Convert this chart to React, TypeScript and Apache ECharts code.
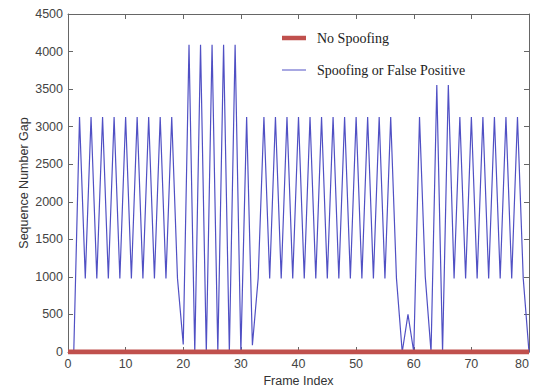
import React, { useEffect, useRef } from "react";
import * as echarts from "echarts";

const frameIndex: number[] = [
  0, 1, 2, 3, 4, 5, 6, 7, 8, 9, 10, 11, 12, 13, 14, 15, 16, 17, 18, 19, 20,
  21, 22, 23, 24, 25, 26, 27, 28, 29, 30, 31, 32, 33, 34, 35, 36, 37, 38, 39, 40,
  41, 42, 43, 44, 45, 46, 47, 48, 49, 50, 51, 52, 53, 54, 55, 56, 57, 58, 59, 60,
  61, 62, 63, 64, 65, 66, 67, 68, 69, 70, 71, 72, 73, 74, 75, 76, 77, 78, 79, 80,
];

const spoofingGap: number[] = [
  0, 0, 3130, 980, 3130, 980, 3130, 980, 3130, 980, 3130,
  980, 3130, 980, 3130, 980, 3130, 980, 3130, 980, 100,
  4090, 0, 4090, 0, 4090, 0, 4090, 0, 4090, 0,
  3130, 90, 980, 3130, 980, 3130, 980, 3130, 980, 3130,
  980, 3130, 980, 3130, 980, 3130, 980, 3130, 980, 3130,
  980, 3130, 980, 3130, 980, 3130, 980, 0, 500, 0,
  3130, 1000, 0, 3555, 0, 3555, 980, 3130, 980, 3130,
  980, 3130, 980, 3130, 980, 3130, 980, 3130, 980, 0,
];

const noSpoofingGap: number[] = [
  0, 0, 0, 0, 0, 0, 0, 0, 0, 0, 0,
  0, 0, 0, 0, 0, 0, 0, 0, 0, 0,
  0, 0, 0, 0, 0, 0, 0, 0, 0, 0,
  0, 0, 0, 0, 0, 0, 0, 0, 0, 0,
  0, 0, 0, 0, 0, 0, 0, 0, 0, 0,
  0, 0, 0, 0, 0, 0, 0, 0, 0, 0,
  0, 0, 0, 0, 0, 0, 0, 0, 0, 0,
  0, 0, 0, 0, 0, 0, 0, 0, 0, 0,
];

const seriesNames = ["No Spoofing", "Spoofing or False Positive"];

const RED = "#c0504d";
const BLUE = "#5050c4";

export default function App() {
  const ref = useRef<HTMLDivElement>(null);

  useEffect(() => {
    if (!ref.current) return;
    const chart = echarts.init(ref.current, null, { renderer: "svg" });
    const axisColor = "#666";
    const labelFont = "'Liberation Sans', Arial, sans-serif";
    const commonX = {
      type: "value" as const,
      min: 0,
      max: 80,
      interval: 10,
      splitLine: { show: false },
      axisLine: { show: true, onZero: false, lineStyle: { color: axisColor, width: 1 } },
      axisTick: { show: true, inside: true, length: 5, lineStyle: { color: axisColor } },
    };
    const commonY = {
      type: "value" as const,
      min: 0,
      max: 4500,
      interval: 500,
      splitLine: { show: false },
      axisLine: { show: true, onZero: false, lineStyle: { color: axisColor, width: 1 } },
      axisTick: { show: true, inside: true, length: 5, lineStyle: { color: axisColor } },
    };
    chart.setOption({
      animation: false,
      backgroundColor: "#ffffff",
      grid: {
        left: 68,
        right: 4,
        top: 14,
        bottom: 35,
        containLabel: false,
        outerBoundsMode: "none",
      },
      legend: {
        orient: "vertical",
        left: 282,
        top: 31,
        padding: 0,
        itemWidth: 24,
        itemHeight: 14,
        itemGap: 18,
        symbolKeepAspect: true,
        textStyle: {
          fontFamily: "'Liberation Serif', 'Times New Roman', serif",
          fontSize: 14,
          color: "#222",
          padding: [0, 0, 0, 6],
        },
        data: [
          { name: seriesNames[0], icon: "path://M0,0 H24 V4.5 H0 Z", itemStyle: { color: RED } },
          { name: seriesNames[1], icon: "path://M0,0 H24 V1 H0 Z", itemStyle: { color: BLUE } },
        ],
      },
      xAxis: [
        {
          ...commonX,
          position: "bottom",
          name: "Frame Index",
          nameLocation: "middle",
          nameGap: 21,
          nameTextStyle: { fontFamily: labelFont, fontSize: 12.5, color: "#333" },
          axisLabel: {
            margin: 5,
            fontFamily: labelFont,
            fontSize: 12.5,
            color: "#444",
            alignMaxLabel: "right",
          },
        },
        {
          ...commonX,
          position: "top",
          axisLabel: { show: false },
        },
      ],
      yAxis: [
        {
          ...commonY,
          position: "left",
          name: "Sequence Number Gap",
          nameLocation: "middle",
          nameGap: 38,
          nameMoveOverlap: false,
          nameTextStyle: { fontFamily: labelFont, fontSize: 12.5, color: "#333" },
          axisLabel: {
            margin: 5,
            fontFamily: labelFont,
            fontSize: 12.5,
            color: "#444",
            formatter: (v: number) => String(v),
          },
        },
        {
          ...commonY,
          position: "right",
          axisLabel: { show: false },
        },
      ],
      series: [
        {
          name: seriesNames[1],
          type: "line",
          xAxisIndex: 0,
          yAxisIndex: 0,
          symbol: "none",
          data: frameIndex.map((f, i) => [f, spoofingGap[i]]),
          lineStyle: { color: BLUE, width: 1.2 },
          itemStyle: { color: BLUE },
          z: 2,
        },
        {
          name: seriesNames[0],
          type: "line",
          xAxisIndex: 0,
          yAxisIndex: 0,
          symbol: "none",
          data: frameIndex.map((f, i) => [f, noSpoofingGap[i]]),
          lineStyle: { color: RED, width: 5 },
          itemStyle: { color: RED },
          z: 3,
        },
      ],
    });
    return () => chart.dispose();
  }, []);

  return (
    <div
      ref={ref}
      style={{ position: "fixed", left: 0, top: 0, width: 533, height: 387 }}
    />
  );
}
